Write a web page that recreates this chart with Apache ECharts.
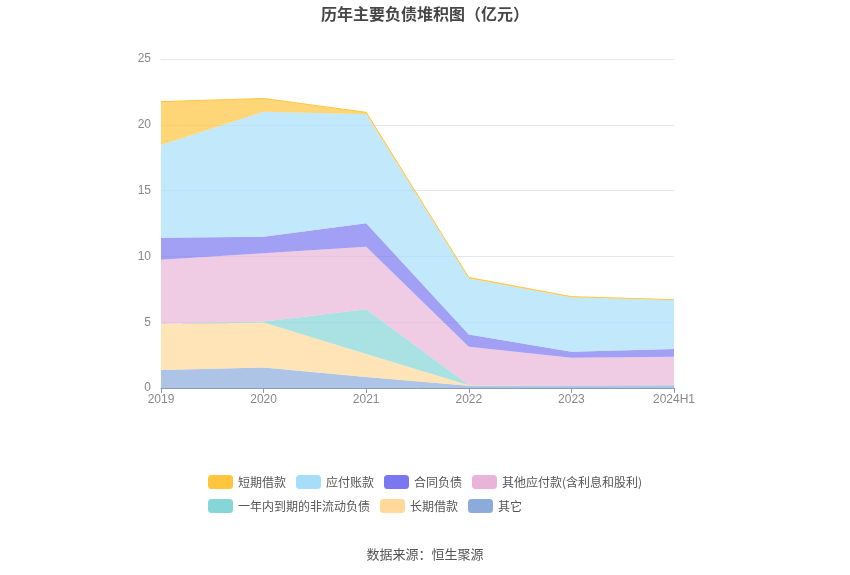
<!DOCTYPE html>
<html><head><meta charset="utf-8">
<script src="https://cdn.jsdelivr.net/npm/echarts@6/dist/echarts.min.js"></script>
<style>html,body{margin:0;padding:0;background:#fff}#c{width:850px;height:575px}</style>
</head><body><div id="c"></div>
<script>
var categories = ['2019','2020','2021','2022','2023','2024H1'];
var seriesNames = ['短期借款','应付账款','合同负债','其他应付款(含利息和股利)','一年内到期的非流动负债','长期借款','其它'];
var shortLoan   = [3.30, 1.00, 0.15, 0.07, 0.05, 0.02];
var payables    = [7.05, 9.50, 8.29, 4.26, 4.13, 3.73];
var contractLia = [1.67, 1.27, 1.77, 0.93, 0.46, 0.58];
var otherPay    = [4.87, 5.18, 4.76, 2.92, 2.12, 2.18];
var currentNonCur = [0.00, 0.08, 3.40, 0.02, 0.00, 0.00];
var longLoan    = [3.50, 3.42, 1.74, 0.02, 0.00, 0.00];
var others      = [1.37, 1.55, 0.84, 0.18, 0.18, 0.20];
var yTicks = [0,5,10,15,20,25];

var colors = ['#FFC53D','#A6DEFA','#7A77F0','#E8B5D8','#86D6D8','#FFD89A','#8CABDB'];
var dataByName = {};
dataByName[seriesNames[0]] = shortLoan;
dataByName[seriesNames[1]] = payables;
dataByName[seriesNames[2]] = contractLia;
dataByName[seriesNames[3]] = otherPay;
dataByName[seriesNames[4]] = currentNonCur;
dataByName[seriesNames[5]] = longLoan;
dataByName[seriesNames[6]] = others;

var stackOrder = seriesNames.slice().reverse();
var series = stackOrder.map(function(n){
  var idx = seriesNames.indexOf(n);
  return {
    name: n, type: 'line', stack: 'total', data: dataByName[n],
    symbol: 'none', smooth: false,
    lineStyle: {width: idx === 0 ? 1 : 0, color: colors[idx]},
    areaStyle: {color: colors[idx], opacity: 0.7},
    itemStyle: {color: colors[idx]}
  };
});

var chart = echarts.init(document.getElementById('c'));
chart.setOption({
  animation: false,
  color: colors,
  title: {text: '历年主要负债堆积图（亿元）', left: 'center', top: 1,
    textStyle: {fontSize: 16, fontWeight: 'bold', color: '#464646', fontFamily: 'Noto Sans CJK SC'}},
  legend: {data: seriesNames, left: 203, top: 470, width: 450, itemWidth: 25, itemHeight: 14,
    itemGap: 10, icon: 'roundRect',
    textStyle: {fontSize: 12, color: '#555', fontFamily: 'Noto Sans CJK SC'}},
  grid: {left: 161, right: 176, top: 59, bottom: 187},
  xAxis: {type: 'category', data: categories, boundaryGap: false,
    axisLine: {lineStyle: {color: '#8a9bb8'}},
    axisTick: {show: true, lineStyle: {color: '#8a9bb8'}},
    axisLabel: {color: '#888', fontSize: 12, margin: 6}},
  yAxis: {type: 'value', min: yTicks[0], max: yTicks[yTicks.length-1], interval: 5,
    axisLine: {show: false}, axisTick: {show: false},
    axisLabel: {color: '#888', fontSize: 12, margin: 10},
    splitLine: {lineStyle: {color: '#e3e8f0'}}},
  graphic: [{type: 'text', left: 'center', top: 548,
    style: {text: '数据来源：恒生聚源', fontSize: 13, fill: '#555', fontFamily: 'Noto Sans CJK SC'}}],
  series: series
});
</script></body></html>
